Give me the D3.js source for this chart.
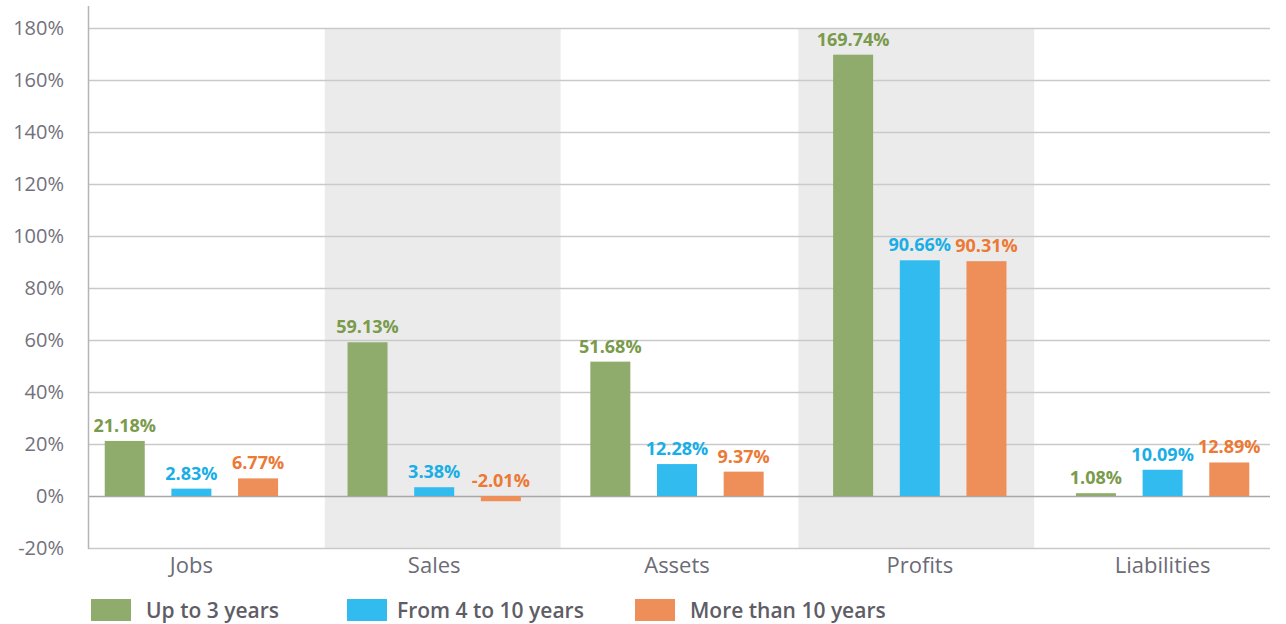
<!DOCTYPE html>
<html>
<head>
    <meta charset="utf-8">
    <style>
        body { margin: 0; background: #fff; }
        text { font-family: "Open Sans", "Noto Sans", sans-serif; }
    </style>
</head>
<body>
    <script src="https://cdn.jsdelivr.net/npm/d3@7"></script>
    <script>
        var categories = ["Jobs", "Sales", "Assets", "Profits", "Liabilities"];
        var seriesNames = ["Up to 3 years", "From 4 to 10 years", "More than 10 years"];
        var upTo3 = [21.18, 59.13, 51.68, 169.74, 1.08];
        var from4to10 = [2.83, 3.38, 12.28, 90.66, 10.09];
        var moreThan10 = [6.77, -2.01, 9.37, 90.31, 12.89];
        var yTicks = [-20, 0, 20, 40, 60, 80, 100, 120, 140, 160, 180];

        var barColors = ["#8fac6c", "#31bbef", "#ee8e58"];
        var labelColors = ["#7a9a4c", "#1aaee6", "#ec7935"];
        var seriesValues = [upTo3, from4to10, moreThan10];

        var width = 1286, height = 624;
        var plotLeft = 88, plotRight = 1270, plotTop = 28, plotBottom = 548;

        var svg = d3.select("body").append("svg")
            .attr("width", width)
            .attr("height", height);

        var yScale = d3.scaleLinear()
            .domain([-20, 180])
            .range([plotBottom, plotTop]);

        var xScale = d3.scaleBand()
            .domain(categories)
            .range([70, 1284]);

        // shading bands sit on the plot area itself
        var shadeScale = d3.scaleBand()
            .domain(categories)
            .range([88, 1272]);

        var subScale = d3.scaleBand()
            .domain(seriesNames)
            .range([-100, 100])
            .paddingInner(0.4)
            .paddingOuter(0.2);

        // alternating shaded bands
        svg.append("g")
            .selectAll("rect")
            .data(categories.filter(function (d, i) { return i % 2 === 1; }))
            .enter()
            .append("rect")
            .attr("x", function (d) { return shadeScale(d); })
            .attr("width", shadeScale.bandwidth() - 1)
            .attr("y", plotTop)
            .attr("height", plotBottom - plotTop)
            .attr("fill", "#ebebeb");

        // gridlines
        svg.append("g")
            .selectAll("line")
            .data(yTicks)
            .enter()
            .append("line")
            .attr("x1", plotLeft)
            .attr("x2", plotRight)
            .attr("y1", function (d) { return yScale(d) + 0.5; })
            .attr("y2", function (d) { return yScale(d) + 0.5; })
            .attr("stroke", function (d) { return d === 0 ? "#a8a8a8" : "#c9c9c9"; })
            .attr("stroke-width", 1.5);

        // y axis
        var yAxis = d3.axisLeft(yScale)
            .tickValues(yTicks)
            .tickSize(0)
            .tickPadding(24)
            .tickFormat(function (d) { return d + "%"; });
        var yAxisNodes = svg.append("g")
            .attr("transform", "translate(" + plotLeft + ",0)")
            .call(yAxis);
        yAxisNodes.select(".domain").remove();
        yAxisNodes.selectAll("text")
            .attr("font-size", 20)
            .attr("fill", "#72717c");
        svg.append("line")
            .attr("x1", plotLeft + 0.5).attr("x2", plotLeft + 0.5)
            .attr("y1", 6).attr("y2", plotBottom + 1)
            .attr("stroke", "#b5b5b5").attr("stroke-width", 1.5);

        // x axis
        var xAxis = d3.axisBottom(xScale).tickSize(0).tickPadding(9);
        var xAxisNodes = svg.append("g")
            .attr("transform", "translate(0," + plotBottom + ")")
            .call(xAxis);
        xAxisNodes.select(".domain").remove();
        xAxisNodes.selectAll("text")
            .attr("font-size", 22)
            .attr("fill", "#6c6b76");

        // bars
        var groups = svg.append("g")
            .selectAll("g")
            .data(categories)
            .enter()
            .append("g")
            .attr("transform", function (d) {
                return "translate(" + (xScale(d) + xScale.bandwidth() / 2) + ",0)";
            });

        function rowData(d, i) {
            return seriesNames.map(function (s, j) { return { series: s, j: j, value: seriesValues[j][i] }; });
        }

        groups.selectAll("rect")
            .data(rowData)
            .enter()
            .append("rect")
            .attr("x", function (d) { return subScale(d.series); })
            .attr("width", subScale.bandwidth())
            .attr("y", function (d) { return yScale(Math.max(0, d.value)); })
            .attr("height", function (d) { return Math.abs(yScale(d.value) - yScale(0)); })
            .attr("fill", function (d) { return barColors[d.j]; });

        groups.selectAll("text.value")
            .data(rowData)
            .enter()
            .append("text")
            .attr("class", "value")
            .attr("x", function (d) { return subScale(d.series) + subScale.bandwidth() / 2; })
            .attr("y", function (d) { return yScale(Math.max(0, d.value)) - 9; })
            .attr("text-anchor", "middle")
            .attr("font-size", 18)
            .attr("font-weight", "bold")
            .attr("fill", function (d) { return labelColors[d.j]; })
            .text(function (d) { return d.value.toFixed(2) + "%"; });

        // legend
        var legendX = [91, 347, 635];
        var legend = svg.append("g")
            .selectAll("g")
            .data(seriesNames)
            .enter()
            .append("g")
            .attr("transform", function (d, i) { return "translate(" + legendX[i] + ",599)"; });
        legend.append("rect")
            .attr("width", 40)
            .attr("height", 22)
            .attr("fill", function (d, i) { return barColors[i]; });
        legend.append("text")
            .attr("x", function (d, i) { return i === 1 ? 50 : 55; })
            .attr("y", 19)
            .attr("font-size", 21)
            .attr("font-weight", 600)
            .attr("fill", "#5e5d66")
            .text(function (d) { return d; });
    </script>
</body>
</html>
